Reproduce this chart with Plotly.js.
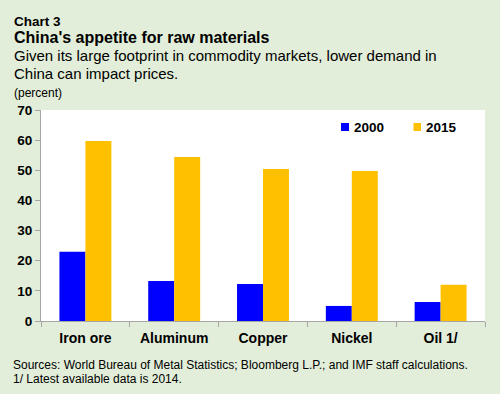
<!DOCTYPE html>
<html>
<head>
<meta charset="utf-8">
<script src="https://cdn.plot.ly/plotly-3.0.1.min.js"></script>
<style>
  html, body { margin: 0; padding: 0; background: #e2eed9; }
  #chart { width: 500px; height: 394px; }
</style>
</head>
<body>
<div id="chart"></div>
<script>
const categories = ["Iron ore", "Aluminum", "Copper", "Nickel", "Oil 1/"];
const values2000 = [23.0, 13.3, 12.3, 5.0, 6.3];
const values2015 = [59.7, 54.4, 50.4, 49.8, 12.0];
const seriesNames = ["2000", "2015"];
const seriesColors = ["#0000ff", "#ffc000"];
const yTickVals = [0, 10, 20, 30, 40, 50, 60, 70];

const FONT = "Arial, 'Liberation Sans', sans-serif";
const BG = "#e2eed9";

// plot area in pixels
const L = 41, R = 15, T = 110, B = 73, W = 500, H = 394;
const PW = W - L - R, PH = H - T - B;
const px = x => (x - L) / PW;
const py = y => (H - B - y) / PH;

const traces = [
  { type: "bar", x: categories, y: values2000, name: seriesNames[0],
    marker: { color: seriesColors[0] }, showlegend: false, hoverinfo: "x+y+name" },
  { type: "bar", x: categories, y: values2015, name: seriesNames[1],
    marker: { color: seriesColors[1] }, showlegend: false, hoverinfo: "x+y+name" }
];

function ann(text, xpx, ypx, size, bold, extra) {
  return Object.assign({
    text: bold ? "<b>" + text + "</b>" : text,
    xref: "paper", yref: "paper", x: px(xpx), y: py(ypx),
    xanchor: "left", yanchor: "middle", showarrow: false,
    font: { family: FONT, size: size, color: "#000000" }
  }, extra || {});
}

const annotations = [
  ann("Chart 3", 12, 21, 13.5, true),
  ann("China's appetite for raw materials", 12, 37.5, 16, true),
  ann("Given its large footprint in commodity markets, lower demand in", 12, 55.5, 15, false),
  ann("China can impact prices.", 12, 73, 15, false),
  ann("(percent)", 12, 92.5, 12, false),
  ann("Sources: World Bureau of Metal Statistics; Bloomberg L.P.; and IMF staff calculations.", 11, 365, 12, false),
  ann("1/ Latest available data is 2014.", 11, 378.5, 12, false),
  ann(seriesNames[0], 352, 127, 13.5, true),
  ann(seriesNames[1], 423.5, 127, 13.5, true)
];

const shapes = [
  { type: "rect", xref: "paper", yref: "paper", x0: px(341), x1: px(349), y0: py(131), y1: py(123),
    fillcolor: seriesColors[0], line: { width: 0 } },
  { type: "rect", xref: "paper", yref: "paper", x0: px(413.5), x1: px(421), y0: py(131), y1: py(123),
    fillcolor: seriesColors[1], line: { width: 0 } }
];

const layout = {
  width: W, height: H,
  margin: { l: L, r: R, t: T, b: B, pad: 0 },
  paper_bgcolor: BG,
  plot_bgcolor: "#ffffff",
  barmode: "group",
  bargap: 0.415,
  bargroupgap: 0,
  showlegend: false,
  font: { family: FONT, color: "#000000" },
  xaxis: {
    type: "category",
    showgrid: false, zeroline: false,
    showline: true, linecolor: "#a6a6a6", linewidth: 1,
    ticks: "outside", tickson: "boundaries", ticklen: 5, tickcolor: "#a6a6a6",
    ticklabelstandoff: 4,
    tickfont: { family: FONT, size: 14, color: "#000000", weight: "bold" },
    fixedrange: true
  },
  yaxis: {
    range: [0, 70], tickvals: yTickVals,
    showgrid: false, zeroline: false,
    showline: true, linecolor: "#a6a6a6", linewidth: 1,
    ticks: "outside", ticklen: 5, tickcolor: "#a6a6a6",
    tickfont: { family: FONT, size: 13.5, color: "#000000", weight: "bold" },
    fixedrange: true
  },
  annotations: annotations,
  shapes: shapes
};

Plotly.newPlot("chart", traces, layout, { staticPlot: true, displayModeBar: false });
</script>
</body>
</html>
